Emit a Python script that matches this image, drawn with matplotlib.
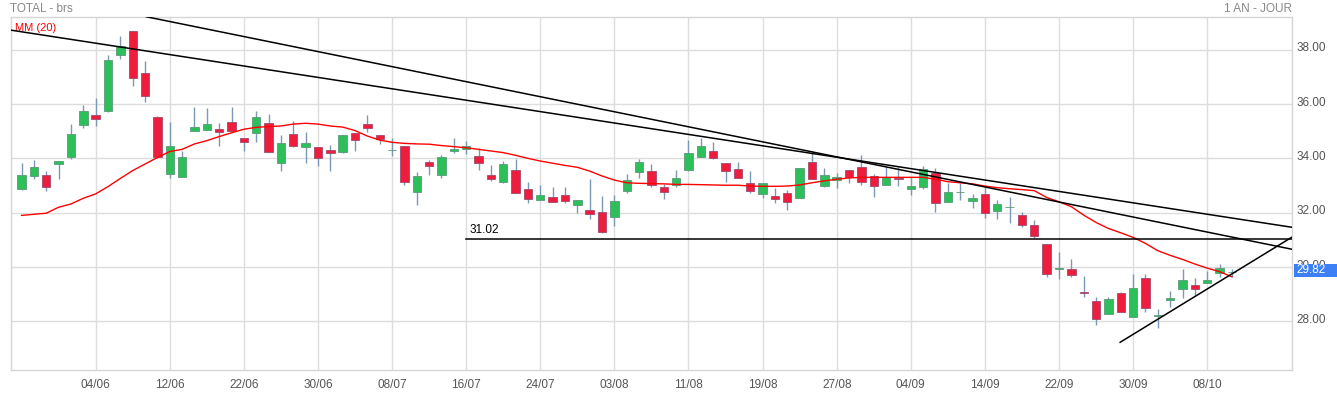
import matplotlib
matplotlib.use("Agg")
import matplotlib.pyplot as plt
import matplotlib.transforms as mtransforms
from matplotlib.patches import Rectangle
import numpy as np

plt.rcParams["font.family"] = ["Liberation Sans", "DejaVu Sans"]

# jours de bourse, index 0 = 04/06
day_index = np.arange(-6, 93)

opens = [32.88, 33.36, 33.37, 33.80, 34.06, 35.24, 35.58, 35.75, 37.82, 38.69,
         37.14, 35.52, 33.44, 33.33, 35.02, 35.06, 35.07, 35.33, 34.74, 34.94,
         35.30, 33.84, 34.88, 34.43, 34.42, 34.29, 34.25, 34.92, 35.25, 34.85,
         34.29, 34.45, 32.77, 33.85, 33.40, 34.28, 34.36, 34.09, 33.37, 33.14,
         33.56, 32.86, 32.48, 32.56, 32.64, 32.29, 32.09, 32.01, 31.85, 32.81,
         33.51, 33.53, 32.93, 33.02, 33.58, 34.06, 34.26, 33.83, 33.60, 33.08,
         32.70, 32.60, 32.71, 32.55, 33.85, 32.99, 33.20, 33.56, 33.67, 33.34,
         33.03, 33.29, 32.86, 32.96, 33.45, 32.40, 32.75, 32.44, 32.67, 32.05,
         32.20, 31.90, 31.53, 30.83, 29.92, 29.91, 29.08, 28.74, 28.26, 29.03,
         28.17, 29.58, 28.18, 28.77, 29.18, 29.33, 29.42, 29.77, 29.80]
highs = [33.83, 33.94, 33.53, 33.90, 35.26, 35.96, 36.22, 37.80, 38.52, 38.69,
         37.58, 35.56, 35.34, 34.27, 35.90, 35.85, 35.29, 35.89, 34.74, 35.74,
         35.63, 34.86, 35.37, 34.97, 34.42, 34.48, 34.86, 34.93, 35.60, 34.85,
         34.74, 34.46, 33.48, 33.93, 34.12, 34.76, 34.65, 34.38, 33.75, 33.90,
         33.98, 33.13, 33.02, 32.93, 32.93, 32.47, 33.24, 32.60, 32.65, 33.42,
         33.98, 33.80, 33.04, 33.57, 34.67, 34.76, 34.60, 33.83, 33.87, 33.53,
         33.08, 32.90, 32.83, 33.65, 34.22, 33.64, 33.46, 33.57, 34.12, 33.42,
         33.69, 33.69, 33.30, 33.72, 33.63, 33.08, 33.08, 32.67, 32.96, 32.47,
         32.56, 32.04, 31.73, 30.84, 30.55, 30.28, 29.67, 28.88, 28.91, 29.08,
         29.74, 29.74, 28.45, 29.12, 29.93, 29.58, 29.87, 30.11, 29.93]
lows = [32.85, 33.24, 32.80, 33.24, 33.99, 35.13, 35.20, 35.72, 37.67, 36.66,
        36.09, 34.00, 33.29, 33.31, 35.00, 35.05, 34.47, 34.98, 34.27, 34.61,
        34.24, 33.55, 34.40, 33.84, 33.73, 33.55, 34.21, 34.28, 34.98, 34.53,
        34.10, 33.02, 32.28, 33.40, 33.29, 34.21, 34.15, 33.57, 33.15, 33.10,
        32.71, 32.37, 32.48, 32.38, 32.34, 32.00, 31.75, 31.24, 31.51, 32.74,
        33.29, 32.93, 32.50, 32.93, 33.53, 34.06, 33.99, 33.14, 33.29, 32.71,
        32.55, 32.34, 32.10, 32.55, 33.25, 32.95, 32.92, 33.10, 33.03, 32.59,
        33.03, 32.98, 32.66, 32.88, 32.04, 32.40, 32.47, 32.18, 31.79, 31.75,
        31.61, 31.48, 31.06, 29.64, 29.57, 29.62, 28.91, 27.88, 28.26, 28.34,
        28.17, 28.33, 27.77, 28.52, 28.85, 28.97, 29.42, 29.64, 29.64]
closes = [33.39, 33.68, 32.96, 33.90, 34.90, 35.74, 35.44, 37.62, 38.13, 36.97,
          36.31, 34.06, 34.45, 34.05, 35.15, 35.26, 34.98, 34.99, 34.61, 35.52,
          34.25, 34.55, 34.47, 34.55, 34.00, 34.18, 34.85, 34.66, 35.10, 34.70,
          34.29, 33.14, 33.34, 33.71, 34.05, 34.34, 34.45, 33.82, 33.23, 33.78,
          32.71, 32.52, 32.64, 32.38, 32.42, 32.47, 31.94, 31.30, 32.43, 33.20,
          33.87, 33.03, 32.77, 33.28, 34.20, 34.45, 34.00, 33.52, 33.29, 32.81,
          33.08, 32.52, 32.38, 33.64, 33.25, 33.37, 33.30, 33.33, 33.12, 32.97,
          33.30, 33.23, 32.97, 33.60, 32.34, 32.75, 32.76, 32.54, 32.00, 32.31,
          32.21, 31.53, 31.13, 29.73, 29.96, 29.69, 29.03, 28.07, 28.81, 28.34,
          29.21, 28.48, 28.22, 28.86, 29.51, 29.18, 29.51, 29.95, 29.82]
mm20 = [31.90, 31.94, 31.98, 32.20, 32.32, 32.53, 32.69, 32.96, 33.26, 33.55,
        33.79, 34.03, 34.25, 34.33, 34.53, 34.65, 34.80, 34.94, 35.07, 35.14,
        35.17, 35.19, 35.26, 35.29, 35.26, 35.19, 35.15, 35.02, 34.82, 34.67,
        34.59, 34.55, 34.53, 34.52, 34.47, 34.43, 34.39, 34.33, 34.27, 34.21,
        34.11, 34.00, 33.90, 33.82, 33.74, 33.67, 33.53, 33.35, 33.20, 33.10,
        33.08, 33.07, 33.06, 33.04, 33.04, 33.03, 33.02, 33.01, 33.01, 32.98,
        32.97, 32.97, 32.98, 33.02, 33.10, 33.17, 33.23, 33.28, 33.30, 33.30,
        33.30, 33.30, 33.30, 33.30, 33.23, 33.14, 33.10, 33.06, 32.98, 32.92,
        32.88, 32.85, 32.81, 32.56, 32.40, 32.22, 31.91, 31.64, 31.42, 31.26,
        31.09, 30.87, 30.60, 30.43, 30.28, 30.11, 29.96, 29.83, 29.64]

date_labels = ["04/06", "12/06", "22/06", "30/06", "08/07", "16/07", "24/07", "03/08",
               "11/08", "19/08", "27/08", "04/09", "14/09", "22/09", "30/09", "08/10"]
price_ticks = [28, 30, 32, 34, 36, 38]

# droites tracées (index, cours)
trend_1 = [(-6.9, 38.72), (96.9, 31.46)]
trend_2 = [(4.1, 39.21), (96.9, 30.65)]
support = [(82.95, 27.23), (96.9, 31.11)]
level = 31.02
level_start = 30
last_price = 29.82

green = "#2dbf5a"
red = "#ee1d3d"
wick = "#7b98b6"
grid_c = "#dddddd"
text_c = "#555555"

fig = plt.figure(figsize=(13.37, 3.94), dpi=100)
ax = fig.add_axes([10.7 / 1337, 24 / 394, 1281.6 / 1337, 352.7 / 394])
ax.set_xlim(-6.88, 96.89)
ax.set_ylim(26.21, 39.19)

o = np.array(opens); h = np.array(highs); l = np.array(lows); c = np.array(closes)
up = c >= o
ax.vlines(day_index, l, h, color=wick, lw=1, zorder=3)
body = np.maximum(np.abs(c - o), 0.025)
bottoms = np.minimum(o, c)
ax.bar(day_index[up], body[up], bottom=bottoms[up], width=0.68,
       color=green, edgecolor="#5a9a7a", lw=0.6, zorder=4)
ax.bar(day_index[~up], body[~up], bottom=bottoms[~up], width=0.68,
       color=red, edgecolor="#a04a70", lw=0.6, zorder=4)

ax.plot(day_index, mm20, color="#ff0000", lw=1, zorder=5)

for line in (trend_1, trend_2, support):
    xs, ys = zip(*line)
    ax.plot(xs, ys, color="black", lw=1.1, zorder=6)
ax.plot([level_start, 96.89], [level, level], color="black", lw=1.1, zorder=6)
ax.text(level_start + 0.3, level + 0.12, f"{level:.2f}", fontsize=8.5, color="black",
        va="bottom", ha="left", zorder=7)

# grille et axes
ax.set_xticks(np.arange(len(date_labels)) * 6)
ax.set_xticklabels(date_labels)
ax.set_yticks(price_ticks)
ax.set_yticklabels([f"{p:.2f}" for p in price_ticks])
ax.yaxis.tick_right()
ax.tick_params(axis="both", length=0, labelsize=8.5, colors=text_c)
ax.tick_params(axis="x", pad=6.5)
ax.tick_params(axis="y", pad=3.2)
# les cours à droite sont un peu au-dessus de la grille
lift = mtransforms.ScaledTranslation(0, 2 / 72, fig.dpi_scale_trans)
for lab in ax.get_yticklabels():
    lab.set_transform(lab.get_transform() + lift)
ax.grid(True, color=grid_c, lw=1)
ax.set_axisbelow(True)
for s in ax.spines.values():
    s.set_color("#d6d6d6")
    s.set_linewidth(1)

# étiquette du dernier cours
trans = mtransforms.blended_transform_factory(ax.transAxes, ax.transData)
ax.add_patch(Rectangle((1.0013, last_price - 0.18), 0.036, 0.48, transform=trans,
                       facecolor="#3d7ff5", edgecolor="none", clip_on=False, zorder=10))
ax.text(1.0036, last_price + 0.06, f"{last_price:.2f}", transform=trans, fontsize=8.5,
        color="white", va="center", ha="left", zorder=11, clip_on=False)

ax.text(0.0035, 0.985, "MM (20)", transform=ax.transAxes, color="#ff0000",
        fontsize=8, va="top", ha="left")
fig.text(10 / 1337, 1 - 8.5 / 394, "TOTAL - brs", color="#888888", fontsize=8.5,
         va="center", ha="left")
fig.text(1292 / 1337, 1 - 8.5 / 394, "1 AN - JOUR", color="#888888", fontsize=8.5,
         va="center", ha="right")

fig.savefig("out.png", dpi=100)
